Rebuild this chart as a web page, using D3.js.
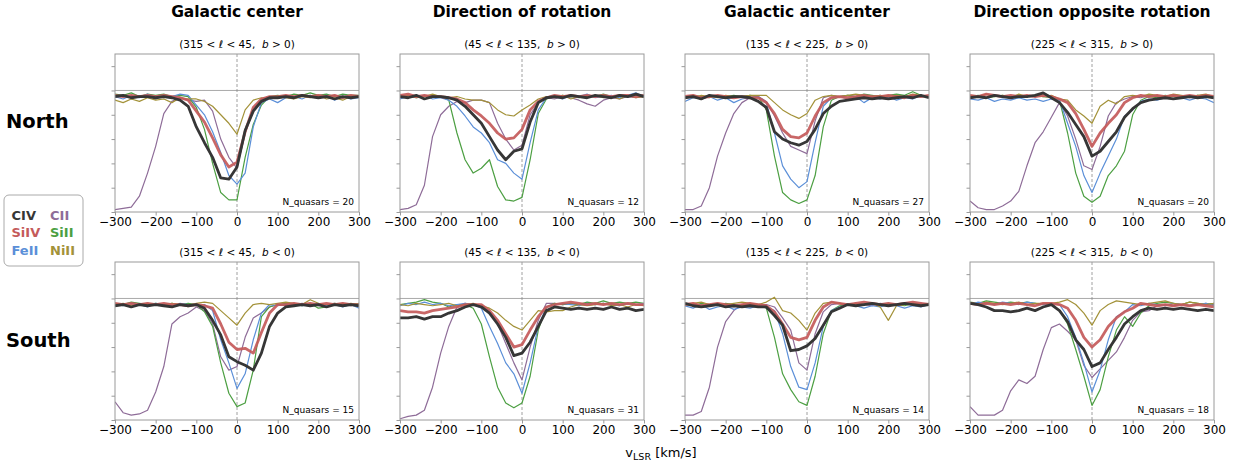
<!DOCTYPE html>
<html>
<head>
<meta charset="utf-8">
<script src="https://cdn.jsdelivr.net/npm/d3@7"></script>
<style>
  body { margin: 0; background: #fff; }
  svg text { font-family: "DejaVu Sans", sans-serif; }
</style>
</head>
<body>
<div id="chart"></div>
<script>
// velocity grid (km/s)
const velocity = [-300,-280,-260,-240,-220,-200,-180,-160,-140,-120,-100,-80,-60,-40,-20,0,20,40,60,80,100,120,140,160,180,200,220,240,260,280,300];

// North, Galactic center
const n1_CIV  = [0.95,0.96,0.94,0.95,0.95,0.94,0.95,0.94,0.92,0.87,0.70,0.57,0.45,0.28,0.27,0.37,0.67,0.83,0.91,0.94,0.94,0.95,0.94,0.96,0.95,0.94,0.95,0.93,0.95,0.94,0.95];
const n1_SiIV = [0.96,0.95,0.96,0.95,0.96,0.95,0.96,0.95,0.94,0.92,0.83,0.74,0.61,0.47,0.37,0.41,0.66,0.86,0.93,0.95,0.95,0.96,0.95,0.96,0.95,0.96,0.95,0.96,0.94,0.96,0.95];
const n1_FeII = [0.95,0.93,0.96,0.94,0.97,0.93,0.96,0.95,0.97,0.96,0.88,0.80,0.66,0.49,0.30,0.23,0.32,0.70,0.90,0.93,0.90,0.94,0.95,0.93,0.96,0.94,0.96,0.92,0.95,0.93,0.94];
const n1_CII  = [0.02,0.03,0.04,0.13,0.32,0.54,0.81,0.91,0.94,0.92,0.91,0.92,0.83,0.60,0.45,0.36,0.65,0.85,0.93,0.95,0.94,0.96,0.95,0.95,0.96,0.94,0.95,0.96,0.95,0.94,0.95];
const n1_SiII = [0.97,0.96,0.98,0.95,0.97,0.96,0.97,0.95,0.96,0.95,0.86,0.68,0.40,0.16,0.10,0.10,0.45,0.72,0.88,0.95,0.96,0.95,0.97,0.96,0.98,0.96,0.97,0.95,0.97,0.96,0.96];
const n1_NiII = [0.92,0.90,0.93,0.91,0.94,0.92,0.93,0.90,0.94,0.93,0.93,0.91,0.87,0.80,0.73,0.64,0.84,0.92,0.94,0.93,0.95,0.94,0.93,0.95,0.94,0.96,0.93,0.94,0.92,0.95,0.94];

// North, direction of rotation
const n2_CIV  = [0.95,0.94,0.96,0.93,0.95,0.95,0.94,0.92,0.87,0.80,0.73,0.62,0.51,0.43,0.50,0.52,0.74,0.90,0.94,0.95,0.94,0.96,0.95,0.94,0.96,0.95,0.94,0.96,0.95,0.97,0.95];
const n2_SiIV = [0.96,0.97,0.95,0.96,0.95,0.95,0.94,0.93,0.90,0.84,0.79,0.73,0.65,0.60,0.61,0.68,0.84,0.91,0.94,0.96,0.95,0.96,0.95,0.96,0.95,0.96,0.95,0.96,0.96,0.95,0.96];
const n2_FeII = [0.93,0.95,0.94,0.96,0.93,0.94,0.92,0.87,0.79,0.70,0.65,0.57,0.43,0.40,0.32,0.27,0.57,0.84,0.94,0.95,0.93,0.96,0.95,0.97,0.94,0.95,0.96,0.94,0.96,0.98,0.95];
const n2_CII  = [0.02,0.03,0.06,0.22,0.62,0.80,0.87,0.91,0.90,0.92,0.92,0.90,0.73,0.60,0.51,0.55,0.80,0.90,0.94,0.93,0.95,0.94,0.92,0.89,0.87,0.92,0.94,0.93,0.95,0.94,0.95];
const n2_SiII = [0.95,0.96,0.94,0.95,0.96,0.95,0.92,0.65,0.43,0.32,0.36,0.43,0.21,0.10,0.09,0.12,0.43,0.81,0.93,0.95,0.96,0.95,0.94,0.96,0.95,0.97,0.95,0.96,0.95,0.96,0.95];
const n2_NiII = [0.95,0.96,0.94,0.95,0.97,0.95,0.94,0.95,0.93,0.92,0.92,0.90,0.84,0.80,0.79,0.84,0.88,0.93,0.95,0.94,0.96,0.93,0.95,0.94,0.96,0.94,0.95,0.93,0.96,0.94,0.95];

// North, Galactic anticenter
const n3_CIV  = [0.94,0.95,0.93,0.96,0.95,0.94,0.95,0.95,0.94,0.91,0.86,0.66,0.60,0.57,0.55,0.58,0.68,0.81,0.87,0.91,0.92,0.93,0.94,0.93,0.94,0.93,0.94,0.95,0.94,0.96,0.94];
const n3_SiIV = [0.95,0.96,0.94,0.95,0.96,0.95,0.94,0.95,0.94,0.94,0.90,0.81,0.68,0.62,0.61,0.65,0.79,0.90,0.94,0.95,0.94,0.95,0.96,0.95,0.95,0.96,0.95,0.94,0.96,0.95,0.96];
const n3_FeII = [0.91,0.94,0.93,0.95,0.92,0.94,0.90,0.93,0.94,0.95,0.90,0.65,0.38,0.27,0.20,0.25,0.57,0.87,0.94,0.95,0.93,0.95,0.90,0.94,0.93,0.95,0.92,0.94,0.93,0.96,0.94];
const n3_CII  = [0.02,0.02,0.05,0.20,0.46,0.65,0.81,0.90,0.94,0.95,0.91,0.79,0.65,0.54,0.51,0.48,0.75,0.94,0.96,0.95,0.96,0.95,0.96,0.95,0.96,0.94,0.96,0.95,0.96,0.95,0.96];
const n3_SiII = [0.95,0.96,0.95,0.94,0.96,0.95,0.96,0.95,0.96,0.95,0.84,0.46,0.16,0.10,0.07,0.10,0.30,0.70,0.92,0.95,0.96,0.95,0.97,0.96,0.95,0.96,0.97,0.96,0.99,0.96,0.95];
const n3_NiII = [0.95,0.94,0.96,0.95,0.94,0.96,0.95,0.95,0.96,0.96,0.96,0.90,0.84,0.80,0.77,0.81,0.92,0.95,0.96,0.95,0.96,0.97,0.96,0.95,0.96,0.95,0.96,0.95,0.97,0.96,0.95];

// North, direction opposite rotation
const n4_CIV  = [0.94,0.95,0.94,0.96,0.95,0.94,0.95,0.95,0.96,0.98,0.94,0.90,0.82,0.72,0.62,0.46,0.50,0.58,0.66,0.78,0.85,0.90,0.92,0.93,0.94,0.93,0.94,0.95,0.94,0.95,0.94];
const n4_SiIV = [0.96,0.95,0.97,0.96,0.95,0.96,0.95,0.96,0.95,0.96,0.95,0.93,0.90,0.81,0.68,0.54,0.65,0.73,0.80,0.90,0.94,0.96,0.95,0.96,0.95,0.96,0.95,0.96,0.95,0.96,0.95];
const n4_FeII = [0.93,0.92,0.94,0.91,0.93,0.92,0.94,0.92,0.93,0.91,0.93,0.92,0.73,0.54,0.30,0.16,0.32,0.46,0.60,0.79,0.84,0.91,0.93,0.92,0.94,0.93,0.94,0.92,0.94,0.93,0.90];
const n4_CII  = [0.09,0.035,0.02,0.02,0.05,0.09,0.17,0.38,0.57,0.66,0.78,0.90,0.79,0.60,0.38,0.35,0.54,0.79,0.90,0.93,0.95,0.94,0.96,0.95,0.94,0.96,0.95,0.94,0.96,0.95,0.94];
const n4_SiII = [0.95,0.96,0.94,0.95,0.96,0.95,0.94,0.95,0.96,0.95,0.94,0.92,0.65,0.32,0.13,0.08,0.13,0.30,0.38,0.50,0.80,0.92,0.95,0.94,0.96,0.95,0.94,0.95,0.96,0.94,0.95];
const n4_NiII = [0.96,0.95,0.97,0.95,0.96,0.94,0.97,0.95,0.96,0.95,0.96,0.93,0.92,0.84,0.79,0.73,0.87,0.92,0.89,0.95,0.96,0.95,0.97,0.96,0.95,0.97,0.96,0.95,0.96,0.97,0.95];

// South, Galactic center
const s1_CIV  = [0.94,0.95,0.93,0.95,0.94,0.95,0.94,0.93,0.95,0.94,0.95,0.92,0.82,0.70,0.52,0.48,0.45,0.41,0.55,0.77,0.88,0.93,0.94,0.95,0.94,0.95,0.93,0.95,0.94,0.95,0.94];
const s1_SiIV = [0.96,0.95,0.96,0.95,0.96,0.95,0.96,0.95,0.95,0.94,0.95,0.94,0.92,0.79,0.64,0.58,0.59,0.55,0.72,0.88,0.95,0.95,0.96,0.95,0.96,0.95,0.96,0.95,0.96,0.95,0.95];
const s1_FeII = [0.95,0.94,0.96,0.95,0.93,0.96,0.95,0.94,0.96,0.95,0.94,0.95,0.90,0.66,0.47,0.26,0.38,0.66,0.88,0.95,0.94,0.95,0.96,0.94,0.95,0.96,0.94,0.95,0.93,0.95,0.92];
const s1_CII  = [0.15,0.06,0.04,0.05,0.08,0.23,0.44,0.79,0.85,0.88,0.93,0.90,0.79,0.52,0.41,0.44,0.68,0.84,0.88,0.93,0.95,0.94,0.95,0.96,0.95,0.94,0.95,0.96,0.95,0.94,0.95];
const s1_SiII = [0.96,0.95,0.97,0.96,0.95,0.96,0.95,0.96,0.95,0.96,0.95,0.89,0.77,0.47,0.22,0.11,0.14,0.41,0.85,0.93,0.95,0.96,0.95,0.94,0.96,0.92,0.93,0.95,0.96,0.95,0.96];
const s1_NiII = [0.95,0.96,0.94,0.95,0.96,0.95,0.94,0.96,0.95,0.94,0.96,0.97,0.96,0.90,0.84,0.78,0.88,0.95,0.96,0.95,0.96,0.97,0.96,0.95,0.99,0.96,0.95,0.96,0.95,0.96,0.95];

// South, direction of rotation
const s2_CIV  = [0.84,0.84,0.85,0.83,0.85,0.85,0.88,0.90,0.93,0.95,0.93,0.88,0.79,0.68,0.53,0.55,0.64,0.77,0.90,0.93,0.92,0.91,0.92,0.91,0.92,0.91,0.93,0.91,0.92,0.90,0.91];
const s2_SiIV = [0.90,0.89,0.89,0.88,0.90,0.91,0.92,0.93,0.95,0.95,0.95,0.90,0.82,0.71,0.60,0.62,0.74,0.85,0.93,0.95,0.96,0.97,0.96,0.95,0.96,0.95,0.96,0.95,0.96,0.95,0.95];
const s2_FeII = [0.94,0.96,0.95,0.97,0.95,0.96,0.94,0.95,0.96,0.95,0.92,0.77,0.63,0.47,0.38,0.22,0.47,0.77,0.93,0.95,0.96,0.95,0.94,0.96,0.95,0.96,0.95,0.94,0.96,0.95,0.96];
const s2_CII  = [0.01,0.03,0.04,0.08,0.27,0.55,0.77,0.93,0.96,0.95,0.94,0.89,0.79,0.63,0.47,0.33,0.60,0.82,0.96,0.96,0.95,0.96,0.95,0.96,0.95,0.96,0.95,0.94,0.96,0.95,0.95];
const s2_SiII = [0.95,0.96,0.97,0.99,0.97,0.96,0.93,0.95,0.95,0.92,0.79,0.52,0.27,0.14,0.10,0.14,0.36,0.74,0.93,0.96,0.95,0.96,0.95,0.97,0.96,0.98,0.96,0.97,0.96,0.97,0.96];
const s2_NiII = [0.95,0.94,0.96,0.95,0.94,0.95,0.96,0.94,0.95,0.96,0.94,0.92,0.88,0.82,0.77,0.74,0.82,0.90,0.89,0.90,0.90,0.93,0.95,0.94,0.95,0.96,0.94,0.95,0.93,0.95,0.94];

// South, Galactic anticenter
const s3_CIV  = [0.96,0.94,0.93,0.94,0.95,0.93,0.94,0.93,0.94,0.93,0.93,0.86,0.78,0.57,0.58,0.61,0.67,0.78,0.89,0.92,0.95,0.94,0.95,0.96,0.95,0.94,0.95,0.96,0.95,0.94,0.95];
const s3_SiIV = [0.95,0.96,0.94,0.95,0.96,0.95,0.94,0.95,0.96,0.95,0.94,0.89,0.79,0.68,0.66,0.68,0.82,0.93,0.97,0.96,0.95,0.96,0.97,0.96,0.95,0.96,0.95,0.96,0.97,0.96,0.95];
const s3_FeII = [0.94,0.92,0.95,0.91,0.93,0.94,0.91,0.93,0.92,0.94,0.93,0.90,0.71,0.44,0.27,0.25,0.47,0.77,0.90,0.93,0.95,0.94,0.92,0.94,0.93,0.95,0.94,0.92,0.94,0.93,0.95];
const s3_CII  = [0.04,0.04,0.07,0.27,0.60,0.81,0.90,0.95,0.95,0.95,0.95,0.93,0.84,0.74,0.47,0.41,0.71,0.89,0.95,0.96,0.95,0.96,0.95,0.94,0.96,0.95,0.94,0.96,0.95,0.96,0.95];
const s3_SiII = [0.95,0.94,0.96,0.95,0.94,0.96,0.95,0.94,0.96,0.95,0.92,0.68,0.38,0.25,0.15,0.12,0.36,0.71,0.90,0.94,0.95,0.96,0.95,0.96,0.94,0.96,0.95,0.94,0.96,0.95,0.96];
const s3_NiII = [0.95,0.96,0.97,0.95,0.96,0.95,0.96,0.97,0.96,0.95,0.97,1.01,0.90,0.88,0.82,0.74,0.88,0.96,0.97,0.96,0.95,0.96,0.95,0.96,0.93,0.82,0.94,0.95,0.96,0.95,0.96];

// South, direction opposite rotation
const s4_CIV  = [0.96,0.95,0.93,0.90,0.90,0.89,0.90,0.92,0.90,0.93,0.95,0.90,0.81,0.66,0.58,0.44,0.47,0.58,0.68,0.79,0.85,0.90,0.92,0.91,0.92,0.91,0.92,0.91,0.90,0.91,0.90];
const s4_SiIV = [0.96,0.95,0.96,0.95,0.96,0.95,0.96,0.95,0.94,0.96,0.96,0.95,0.92,0.82,0.68,0.60,0.66,0.77,0.84,0.89,0.92,0.96,0.95,0.94,0.95,0.94,0.95,0.94,0.95,0.94,0.93];
const s4_FeII = [0.95,0.97,0.96,0.95,0.97,0.96,0.95,0.97,0.96,0.95,0.96,0.95,0.85,0.68,0.47,0.23,0.41,0.66,0.85,0.89,0.95,0.94,0.96,0.95,0.94,0.96,0.95,0.94,0.95,0.96,0.94];
const s4_CII  = [0.11,0.04,0.04,0.04,0.08,0.24,0.33,0.30,0.36,0.58,0.76,0.79,0.73,0.66,0.45,0.35,0.42,0.49,0.56,0.68,0.82,0.89,0.90,0.94,0.95,0.94,0.95,0.94,0.95,0.96,0.95];
const s4_SiII = [0.97,0.96,0.98,0.97,0.96,0.97,0.96,0.97,0.96,0.95,0.96,0.90,0.79,0.58,0.36,0.12,0.25,0.52,0.74,0.85,0.77,0.88,0.94,0.96,0.97,0.96,0.95,0.97,0.96,0.95,0.96];
const s4_NiII = [0.96,0.95,0.97,0.96,0.95,0.96,0.97,0.95,0.96,0.96,0.96,0.97,0.99,0.95,0.88,0.78,0.90,0.95,0.98,0.97,0.96,0.95,0.96,0.97,0.98,0.96,0.95,0.97,0.96,0.95,0.96];

const columnTitles = ["Galactic center", "Direction of rotation", "Galactic anticenter", "Direction opposite rotation"];
const lowL = [315, 45, 135, 225];
const highL = [45, 135, 225, 315];
const rowNames = ["North", "South"];
const bSign = [">", "<"];
const nQuasars = [[20, 12, 27, 20], [15, 31, 14, 18]];
const xTicks = [-300, -200, -100, 0, 100, 200, 300];
const yTicks = [0, 0.2, 0.4, 0.6, 0.8, 1.0, 1.2];

const ionColor = {
  CIV: "#363636", SiIV: "#c45a5a", FeII: "#5b8fd8",
  CII: "#8e6c98", SiII: "#4c9f42", NiII: "#a39239"
};
const ionWidth = { CIV: 2.8, SiIV: 2.8, FeII: 1.2, CII: 1.2, SiII: 1.2, NiII: 1.2 };
// thin lines first, thick ones on top
const drawOrder = ["CII", "SiII", "FeII", "NiII", "SiIV", "CIV"];

const panels = [
  [
    { CIV: n1_CIV, SiIV: n1_SiIV, FeII: n1_FeII, CII: n1_CII, SiII: n1_SiII, NiII: n1_NiII },
    { CIV: n2_CIV, SiIV: n2_SiIV, FeII: n2_FeII, CII: n2_CII, SiII: n2_SiII, NiII: n2_NiII },
    { CIV: n3_CIV, SiIV: n3_SiIV, FeII: n3_FeII, CII: n3_CII, SiII: n3_SiII, NiII: n3_NiII },
    { CIV: n4_CIV, SiIV: n4_SiIV, FeII: n4_FeII, CII: n4_CII, SiII: n4_SiII, NiII: n4_NiII }
  ],
  [
    { CIV: s1_CIV, SiIV: s1_SiIV, FeII: s1_FeII, CII: s1_CII, SiII: s1_SiII, NiII: s1_NiII },
    { CIV: s2_CIV, SiIV: s2_SiIV, FeII: s2_FeII, CII: s2_CII, SiII: s2_SiII, NiII: s2_NiII },
    { CIV: s3_CIV, SiIV: s3_SiIV, FeII: s3_FeII, CII: s3_CII, SiII: s3_SiII, NiII: s3_NiII },
    { CIV: s4_CIV, SiIV: s4_SiIV, FeII: s4_FeII, CII: s4_CII, SiII: s4_SiII, NiII: s4_NiII }
  ]
];

const W = 1237, H = 468;
const colX = [115, 400, 685, 970];
const rowY = [54, 262];
const rowLabelY = [121, 340];
const pw = 244, ph = 158;
const spine = "#9a9a9a";

const svg = d3.select("#chart").append("svg")
  .attr("width", W).attr("height", H)
  .style("display", "block");

const x = d3.scaleLinear().domain([-300, 300]).range([0, pw]);
const y = d3.scaleLinear().domain([0, 1.3]).range([ph, 0]);

const line = d3.line()
  .x((d, i) => x(velocity[i]))
  .y(d => y(d));

// column titles
columnTitles.forEach((t, c) => {
  svg.append("text")
    .attr("x", colX[c] + pw / 2).attr("y", 12)
    .attr("text-anchor", "middle").attr("dominant-baseline", "central")
    .attr("font-size", 15.5).attr("font-weight", "bold")
    .text(t);
});

// row names
rowNames.forEach((t, r) => {
  svg.append("text")
    .attr("x", 6).attr("y", rowLabelY[r])
    .attr("dominant-baseline", "central")
    .attr("font-size", 19.5).attr("font-weight", "bold")
    .text(t);
});

panels.forEach((row, r) => {
  row.forEach((data, c) => {
    const g = svg.append("g").attr("transform", `translate(${colX[c]},${rowY[r]})`);

    g.append("clipPath").attr("id", `clip-${r}-${c}`)
      .append("rect").attr("width", pw).attr("height", ph);

    // subtitle
    const sub = svg.append("text")
      .attr("x", colX[c] + pw / 2).attr("y", rowY[r] - 10)
      .attr("text-anchor", "middle").attr("dominant-baseline", "central")
      .attr("font-size", 10.5).style("white-space", "pre");
    sub.append("tspan").text(`(${lowL[c]} < `);
    sub.append("tspan").attr("font-style", "italic").text("ℓ");
    sub.append("tspan").text(` < ${highL[c]},  `);
    sub.append("tspan").attr("font-style", "italic").text("b");
    sub.append("tspan").text(` ${bSign[r]} 0)`);

    // reference lines
    g.append("line")
      .attr("x1", 0).attr("x2", pw).attr("y1", y(1)).attr("y2", y(1))
      .attr("stroke", "#aaaaaa").attr("stroke-width", 1);
    g.append("line")
      .attr("x1", x(0)).attr("x2", x(0)).attr("y1", 0).attr("y2", ph)
      .attr("stroke", "#888").attr("stroke-width", 0.8)
      .attr("stroke-dasharray", "3,2");

    const lines = g.append("g").attr("clip-path", `url(#clip-${r}-${c})`);
    drawOrder.forEach(ion => {
      lines.append("path")
        .datum(data[ion])
        .attr("d", line)
        .attr("fill", "none")
        .attr("stroke", ionColor[ion])
        .attr("stroke-width", ionWidth[ion])
        .attr("stroke-linejoin", "round")
        .attr("stroke-opacity", ion === "SiIV" ? 0.92 : 1);
    });

    // axes
    const xa = g.append("g").attr("transform", `translate(0,${ph})`)
      .call(d3.axisBottom(x).tickValues(xTicks).tickSize(3.5).tickPadding(1.5).tickFormat(d3.format("d")));
    xa.select(".domain").remove();
    xa.selectAll(".tick line").attr("stroke", spine);
    xa.selectAll(".tick text").attr("font-size", 12).attr("fill", "#000")
      .attr("font-family", "DejaVu Sans, sans-serif");

    const ya = g.append("g")
      .call(d3.axisLeft(y).tickValues(yTicks).tickSize(3.5).tickFormat(""));
    ya.select(".domain").remove();
    ya.selectAll(".tick line").attr("stroke", spine);

    g.append("rect")
      .attr("width", pw).attr("height", ph)
      .attr("fill", "none").attr("stroke", spine).attr("stroke-width", 1);

    g.append("text")
      .attr("x", pw - 5).attr("y", ph - 7)
      .attr("text-anchor", "end")
      .attr("font-size", 9)
      .text(`N_quasars = ${nQuasars[r][c]}`);
  });
});

// legend
const legendRows = [["CIV", "CII"], ["SiIV", "SiII"], ["FeII", "NiII"]];
const lg = svg.append("g").attr("transform", "translate(4,195)");
lg.append("rect")
  .attr("width", 79).attr("height", 71).attr("rx", 5)
  .attr("fill", "#fff").attr("stroke", "#aaaaaa").attr("stroke-width", 1);
legendRows.forEach((pair, i) => {
  pair.forEach((ion, j) => {
    lg.append("text")
      .attr("x", j === 0 ? 7.5 : 46).attr("y", 20 + i * 17.5)
      .attr("dominant-baseline", "central")
      .attr("font-size", 13).attr("font-weight", "bold")
      .attr("fill", ionColor[ion])
      .text(ion);
  });
});

// x axis label
const xl = svg.append("text")
  .attr("x", 661).attr("y", 457)
  .attr("text-anchor", "middle")
  .attr("font-size", 13);
xl.append("tspan").text("v");
xl.append("tspan").attr("font-size", 9.5).attr("dy", 3).text("LSR");
xl.append("tspan").attr("dy", -3).text(" [km/s]");
</script>
</body>
</html>
